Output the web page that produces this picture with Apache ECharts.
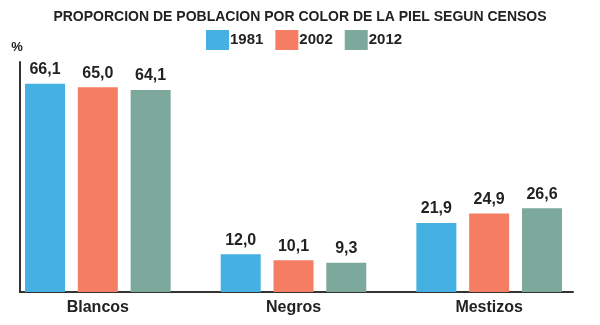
<!DOCTYPE html>
<html>
<head>
<meta charset="utf-8">
<script src="https://cdn.jsdelivr.net/npm/echarts@6/dist/echarts.min.js"></script>
<style>html,body{margin:0;padding:0;background:#fff}#c{width:600px;height:325px}</style>
</head>
<body>
<div id="c"></div>
<script>
const categories = ['Blancos', 'Negros', 'Mestizos'];
const years = ['1981', '2002', '2012'];
const v1981 = [66.1, 12.0, 21.9];
const v2002 = [65.0, 10.1, 24.9];
const v2012 = [64.1, 9.3, 26.6];
const colors = ['#45B1E3', '#F47D63', '#7CA99C'];
const FONT = '"Liberation Sans", Arial, sans-serif';

const seriesData = [v1981, v2002, v2012];
const YMAX = 73;
const chart = echarts.init(document.getElementById('c'), null, {renderer: 'canvas'});
chart.setOption({
  animation: false,
  title: {
    text: 'PROPORCION DE POBLACION POR COLOR DE LA PIEL SEGUN CENSOS',
    left: 'center', top: 5,
    textStyle: {fontFamily: FONT, fontSize: 14, fontWeight: 'bold', color: '#222'}
  },
  legend: {
    data: years, top: 30, left: 206, padding: 0,
    itemWidth: 23, itemHeight: 20, itemGap: 12,
    icon: 'rect',
    textStyle: {fontFamily: FONT, fontSize: 15, fontWeight: 'bold', color: '#222', padding: [0, 0, 0, -4]}
  },
  grid: [
    {left: 20, right: 27, top: 62, bottom: 33, containLabel: false},
    {left: -2, right: 13, top: 62, bottom: 33, containLabel: false}
  ],
  xAxis: [
    {
      gridIndex: 0, type: 'category', data: categories,
      axisLine: {lineStyle: {color: '#333', width: 2}},
      axisTick: {show: false}, axisLabel: {show: false}
    },
    {
      gridIndex: 1, type: 'category', data: categories,
      axisLine: {show: false}, axisTick: {show: false},
      axisLabel: {fontFamily: FONT, fontSize: 16, fontWeight: 'bold', color: '#222', margin: 8}
    }
  ],
  yAxis: [
    {
      gridIndex: 0, type: 'value', min: 0, max: YMAX,
      name: '%', nameLocation: 'end', nameGap: 8,
      nameTextStyle: {fontFamily: FONT, fontSize: 13, fontWeight: 'bold', color: '#222', align: 'center', padding: [0, 6, 0, 0]},
      axisLine: {show: true, lineStyle: {color: '#333', width: 2}},
      axisTick: {show: false}, axisLabel: {show: false}, splitLine: {show: false}
    },
    {
      gridIndex: 1, type: 'value', min: 0, max: YMAX,
      axisLine: {show: false}, axisTick: {show: false}, axisLabel: {show: false}, splitLine: {show: false}
    }
  ],
  series: years.map((y, i) => ({
    name: y, type: 'bar', data: seriesData[i],
    xAxisIndex: 1, yAxisIndex: 1,
    barWidth: 40, barGap: '32%',
    itemStyle: {color: colors[i]},
    label: {
      show: true, position: 'top', distance: 6,
      fontFamily: FONT, fontSize: 16, fontWeight: 'bold', color: '#222',
      formatter: p => p.value.toFixed(1).replace('.', ',')
    }
  }))
});
</script>
</body>
</html>
